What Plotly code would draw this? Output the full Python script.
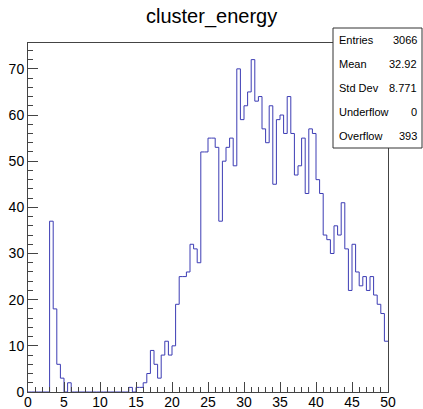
import plotly.graph_objects as go

# Histogram "cluster_energy": 100 bins of width 0.5 from 0 to 50
bin_low = 0.0
bin_width = 0.5
counts = [
    0, 0, 0, 0, 0, 0, 37, 18, 6, 3,
    0, 2, 0, 0, 0, 0, 0, 0, 0, 0,
    0, 0, 0, 0, 0, 0, 0, 0, 1, 0,
    1, 1, 2, 4, 9, 6, 3, 8, 11, 8,
    10, 19, 25, 25, 26, 32, 31, 28, 52, 52,
    55, 55, 53, 37, 50, 53, 55, 49, 70, 59,
    62, 65, 72, 63, 64, 57, 54, 62, 45, 59,
    60, 56, 64, 56, 47, 49, 55, 43, 57, 56,
    46, 43, 34, 33, 30, 36, 34, 41, 31, 22,
    32, 26, 23, 25, 22, 25, 21, 19, 17, 11,
]

stat_names = ["Entries", "Mean", "Std Dev", "Underflow", "Overflow"]
stat_values = ["3066", "32.92", "8.771", "0", "393"]

x_ticks = [0, 5, 10, 15, 20, 25, 30, 35, 40, 45, 50]
y_ticks = [0, 10, 20, 30, 40, 50, 60, 70]

# step outline through the bin edges
edges = [bin_low + i * bin_width for i in range(len(counts) + 1)]
step_y = counts + [counts[-1]]

FONT = "Liberation Sans, Arial, Helvetica, sans-serif"
W, H = 423, 409
L, R, T, B = 28, 35, 43, 17
pw, ph = W - L - R, H - T - B

fig = go.Figure()
fig.add_trace(go.Scatter(
    x=edges, y=step_y, mode="lines", line_shape="hv",
    line=dict(color="#3c3cb4", width=1), hoverinfo="skip", showlegend=False,
))

axis_common = dict(
    showgrid=False, zeroline=False, showline=True, mirror=True,
    linecolor="#444", linewidth=1, ticks="inside", tickcolor="#444",
    tickwidth=1, ticklen=10, automargin=False,
    tickfont=dict(family=FONT, size=14, color="#000"),
)
fig.update_xaxes(range=[0, 50], tickvals=x_ticks, ticklabelstandoff=-3,
                 minor=dict(dtick=1, ticks="inside", ticklen=5, tickcolor="#444"),
                 **axis_common)
fig.update_yaxes(range=[0, 75.6], tickvals=y_ticks,
                 minor=dict(dtick=2, ticks="inside", ticklen=5, tickcolor="#444"),
                 **axis_common)


def px_x(p):
    return (p - L) / pw


def px_y(p):
    return (H - B - p) / ph


shapes = [dict(type="rect", xref="paper", yref="paper", layer="above",
               x0=px_x(333), x1=px_x(422), y0=px_y(148), y1=px_y(28),
               line=dict(color="#333", width=1), fillcolor="white")]

annotations = [dict(text="cluster_energy", xref="paper", yref="paper",
                    x=px_x(211.5), y=px_y(17), xanchor="center", yanchor="middle",
                    showarrow=False, font=dict(family=FONT, size=20, color="#000"))]

row_y = [40, 64, 88, 112, 136]
for name, val, yy in zip(stat_names, stat_values, row_y):
    annotations.append(dict(text=name, xref="paper", yref="paper",
                            x=px_x(337), y=px_y(yy), xanchor="left", yanchor="middle",
                            showarrow=False, font=dict(family=FONT, size=11, color="#000")))
    annotations.append(dict(text=val, xref="paper", yref="paper",
                            x=px_x(419), y=px_y(yy), xanchor="right", yanchor="middle",
                            showarrow=False, font=dict(family=FONT, size=11, color="#000")))

fig.update_layout(
    width=W, height=H, margin=dict(l=L, r=R, t=T, b=B),
    paper_bgcolor="white", plot_bgcolor="white",
    shapes=shapes, annotations=annotations, showlegend=False,
)

fig.write_html("out.html")
